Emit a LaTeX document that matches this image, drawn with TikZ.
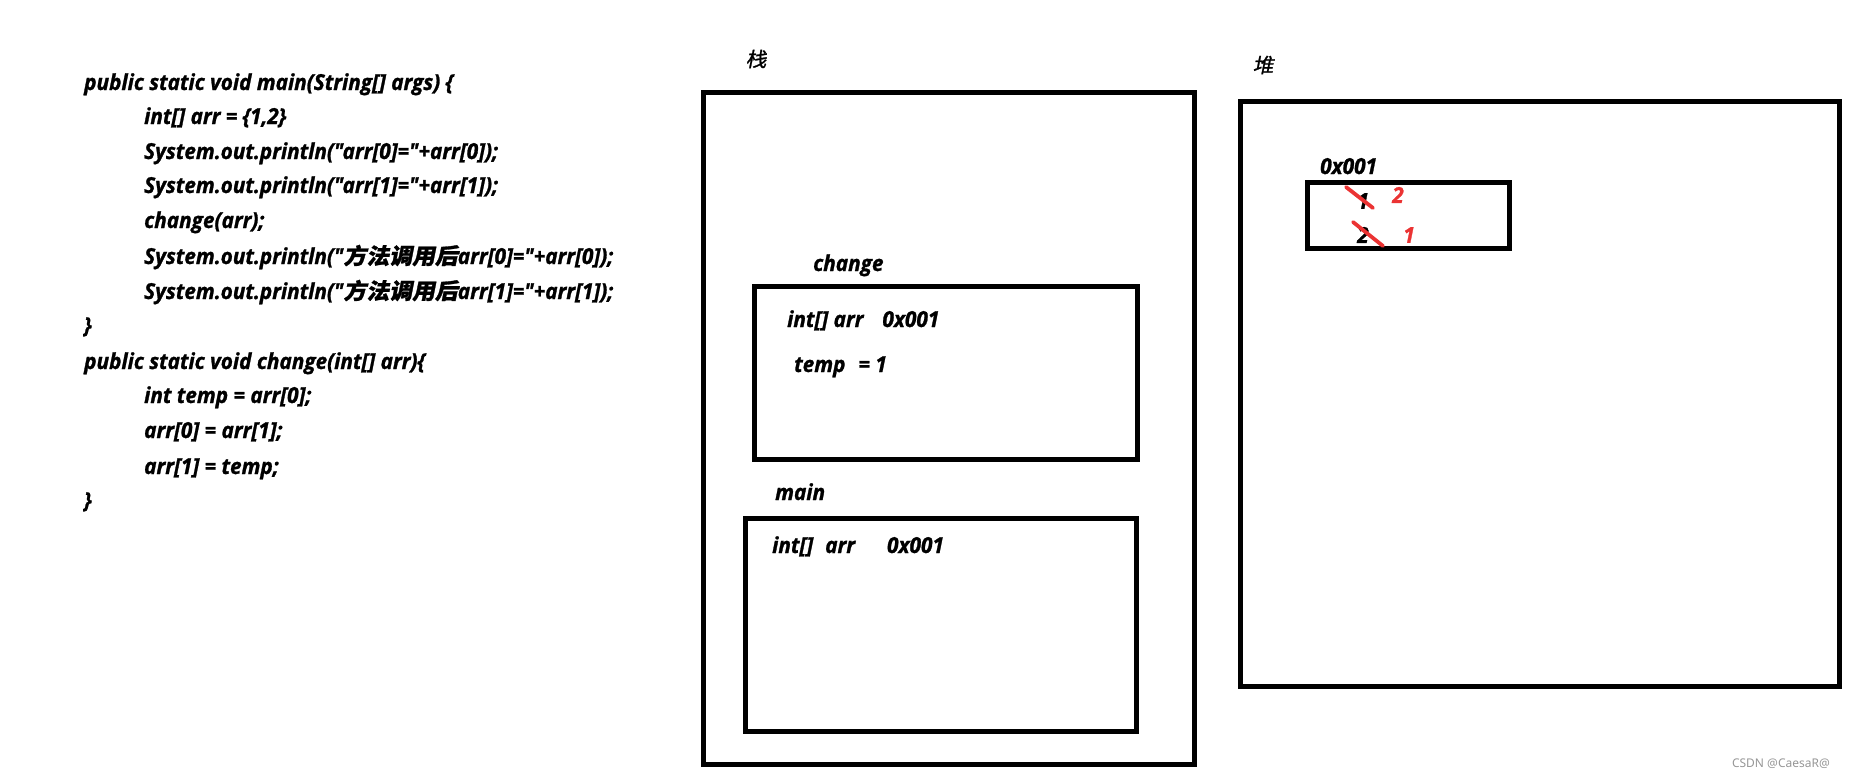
\documentclass[tikz,border=0pt]{standalone}
\usepackage{fontspec}
\newfontfamily\codefont{Open Sans}[FakeStretch=0.945, BoldItalicFeatures={FakeBold=1.2}]
\newfontfamily\cjk{Noto Sans CJK SC}[FakeSlant=0.2, FakeBold=1.2, FakeStretch=1.04]
\newfontfamily\wmfont{Noto Sans}
\definecolor{redc}{RGB}{235,51,51}
\definecolor{wmgray}{RGB}{150,150,150}
\begin{document}
\begin{tikzpicture}[x=1pt,y=-1pt,
  txt/.style={anchor=base west, inner sep=0pt, font=\codefont\bfseries\itshape\fontsize{22}{22}\selectfont},
  cjklab/.style={inner sep=0pt, font=\cjk\fontsize{20}{20}\selectfont},
  frame/.style={draw, line width=5pt, anchor=north west, inner sep=0pt, outer sep=0pt},
  strike/.style={draw=redc, line width=3.8pt, line cap=round},
  digit/.style={inner sep=0pt, font=\codefont\bfseries\itshape\fontsize{22}{22}\selectfont},
  reddigit/.style={digit, text=redc}]
\useasboundingbox (0,0) rectangle (1853,776);
% code
\node[txt] (c1) at (84,90) {public static void main(String[] args) \{};
\node[txt] (c2) at (144,124) {int[] arr = \{1,2\}};
\node[txt] (c3) at (144,159) {System.out.println("arr[0]="+arr[0]);};
\node[txt] (c4) at (144,193) {System.out.println("arr[1]="+arr[1]);};
\node[txt] (c5) at (144,228) {change(arr);};
\node[txt] (c6) at (144,264) {System.out.println("{\cjk 方法调用后}arr[0]="+arr[0]);};
\node[txt] (c7) at (144,299) {System.out.println("{\cjk 方法调用后}arr[1]="+arr[1]);};
\node[txt] (c8) at (84,333) {\}};
\node[txt] (c9) at (84,369) {public static void change(int[] arr)\{};
\node[txt] (c10) at (144,403) {int temp = arr[0];};
\node[txt] (c11) at (144,438) {arr[0] = arr[1];};
\node[txt] (c12) at (144,474) {arr[1] = temp;};
\node[txt] (c13) at (84,508) {\}};
% stack
\node[cjklab] (stacklab) at (756,59) {栈};
\node[frame, minimum width=491pt, minimum height=672pt] (stack) at (703,92) {};
\node[txt] (changelab) at (813,271) {change};
\node[frame, minimum width=383pt, minimum height=173pt] (changebox) at (754,286) {};
\node[txt] (chg1) at (787,327) {int[] arr\hspace{19pt}0x001};
\node[txt] (chg2) at (794,372) {temp\hspace{13pt}= 1};
\node[txt] (mainlab) at (775,500) {main};
\node[frame, minimum width=391pt, minimum height=213pt] (mainbox) at (745,518) {};
\node[txt] (mn1) at (772,553) {int[]\hspace{12pt}arr\hspace{32pt}0x001};
% heap
\node[cjklab] (heaplab) at (1263,65) {堆};
\node[frame, minimum width=599pt, minimum height=585pt] (heap) at (1240,101) {};
\node[txt] (addr) at (1320,174) {0x001};
\node[frame, minimum width=202pt, minimum height=66pt] (arrbox) at (1307,182) {};
\node[digit] (v1) at (1363,201) {1};
\node[reddigit] (n2) at (1398,195) {2};
\node[digit] (v2) at (1363,235) {2};
\node[reddigit] (n1) at (1409,235) {1};
\coordinate (s1a) at (1346,187); \coordinate (s1b) at (1373,208);
\coordinate (s2a) at (1353,222); \coordinate (s2b) at (1383,246);
\draw[strike] (s1a) -- (s1b);
\draw[strike] (s2a) -- (s2b);
% watermark
\node[anchor=base east, inner sep=0pt, text=wmgray, font=\wmfont\fontsize{12}{12}\selectfont] (wm) at (1830,767) {CSDN @CaesaR@};
\end{tikzpicture}
\end{document}
